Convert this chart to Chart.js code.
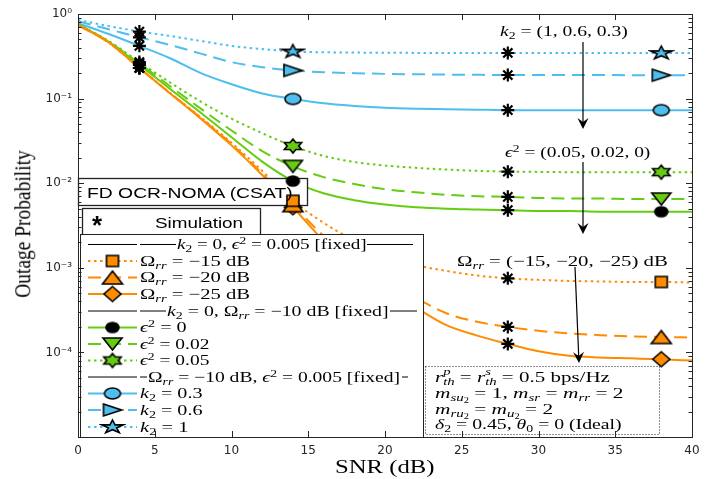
<!DOCTYPE html>
<html>
<head>
<meta charset="utf-8">
<title>Outage Probability vs SNR</title>
<script src="https://cdn.jsdelivr.net/npm/chart.js@4.4.1/dist/chart.umd.min.js"></script>
<style>
  html, body { margin: 0; padding: 0; background: #fff; }
  #wrap { position: relative; width: 715px; height: 479px; overflow: hidden; }
  #grafico { position: absolute; left: 0; top: 0; }
  .t { position: absolute; white-space: nowrap; line-height: 1; transform-origin: 0 50%;
       font-family: 'Liberation Serif', 'DejaVu Serif', serif; font-size: 15px; color: #000; }
  .t sub, .t sup { font-size: 0.7em; line-height: 0; }
  .t sub { vertical-align: -0.3em; }
  .t sup { vertical-align: 0.5em; }
  .t .ss { display: inline-block; vertical-align: -0.3em; font-size: 0.7em; line-height: 0.95; }
  .sans { font-family: 'Liberation Sans', Arial, sans-serif; }
</style>
</head>
<body>
<div id="wrap">
  <canvas id="grafico" width="715" height="479"></canvas>

  <!-- axis titles -->
  <div id="ytitle" class="t" style="font-size:18px">Outage Probability</div>
  <div class="t" data-x="335" data-w="100" data-y="466" style="font-size:19px">SNR (dB)</div>

  <!-- boxes top-left -->
  <div class="t sans" data-x="87" data-w="206" data-y="192">FD OCR-NOMA (CSAT)</div>
  <div class="t sans" data-x="92" data-y="225" style="font-size:26px;font-weight:bold">*</div>
  <div class="t sans" data-x="155" data-w="88" data-y="222">Simulation</div>

  <!-- legend -->
  <div class="t" data-x="177" data-w="189" data-y="244.5"><i>k</i><sub>2</sub> = 0, <i>ϵ</i><sup>2</sup> = 0.005 [fixed]</div>
  <div class="t" data-x="140" data-w="110" data-y="261">Ω<sub><i>rr</i></sub> = −15 dB</div>
  <div class="t" data-x="140" data-w="110" data-y="277.5">Ω<sub><i>rr</i></sub> = −20 dB</div>
  <div class="t" data-x="140" data-w="110" data-y="294">Ω<sub><i>rr</i></sub> = −25 dB</div>
  <div class="t" data-x="167" data-w="221" data-y="311"><i>k</i><sub>2</sub> = 0, Ω<sub><i>rr</i></sub> = −10 dB [fixed]</div>
  <div class="t" data-x="140" data-w="47" data-y="327.5"><i>ϵ</i><sup>2</sup> = 0</div>
  <div class="t" data-x="140" data-w="70" data-y="344"><i>ϵ</i><sup>2</sup> = 0.02</div>
  <div class="t" data-x="140" data-w="70" data-y="360.5"><i>ϵ</i><sup>2</sup> = 0.05</div>
  <div class="t" data-x="148" data-w="252" data-y="377">Ω<sub><i>rr</i></sub> = −10 dB, <i>ϵ</i><sup>2</sup> = 0.005 [fixed]</div>
  <div class="t" data-x="140" data-w="63" data-y="393.5"><i>k</i><sub>2</sub> = 0.3</div>
  <div class="t" data-x="140" data-w="63" data-y="410"><i>k</i><sub>2</sub> = 0.6</div>
  <div class="t" data-x="140" data-w="48" data-y="427"><i>k</i><sub>2</sub> = 1</div>

  <!-- annotations -->
  <div class="t" data-x="500" data-w="128" data-y="31"><i>k</i><sub>2</sub> = (1, 0.6, 0.3)</div>
  <div class="t" data-x="505" data-w="145" data-y="152"><i>ϵ</i><sup>2</sup> = (0.05, 0.02, 0)</div>
  <div class="t" data-x="457" data-w="211" data-y="261">Ω<sub><i>rr</i></sub> = (−15, −20, −25) dB</div>

  <!-- parameters -->
  <div class="t" data-x="435" data-w="175" data-y="377"><i>r</i><span class="ss"><i>p</i><br><i>th</i></span> = <i>r</i><span class="ss"><i>s</i><br><i>th</i></span> = 0.5 bps/Hz</div>
  <div class="t" data-x="435" data-w="188" data-y="393"><i>m</i><sub><i>su</i><sub>2</sub></sub> = 1, <i>m</i><sub><i>sr</i></sub> = <i>m</i><sub><i>rr</i></sub> = 2</div>
  <div class="t" data-x="435" data-w="118" data-y="409"><i>m</i><sub><i>ru</i><sub>2</sub></sub> = <i>m</i><sub><i>u</i><sub>2</sub></sub> = 2</div>
  <div class="t" data-x="435" data-w="187" data-y="424"><i>δ</i><sub>2</sub> = 0.45, <i>θ</i><sub>0</sub> = 0 (Ideal)</div>
</div>

<script>
// ===== DATA =====
const snr = [0, 2, 4, 6, 8, 10, 12, 14, 16, 18, 20, 22, 24, 26, 28, 30, 32, 34, 36, 38, 40];

// k2 = 0, eps^2 = 0.005 fixed, Omega_rr varies
const omega15 = [0.74, 0.46, 0.23, 0.117, 0.06, 0.03, 0.014, 0.0062, 0.0034, 0.0021, 0.00142, 0.00108, 0.00092, 0.00081, 0.00075, 0.00072, 0.0007, 0.00069, 0.00068, 0.00068, 0.00067];
const omega20 = [0.74, 0.46, 0.23, 0.116, 0.059, 0.029, 0.013, 0.0055, 0.0024, 0.0013, 0.00071, 0.00044, 0.00029, 0.00023, 0.0002, 0.00018, 0.000168, 0.00016, 0.000155, 0.000152, 0.00015];
const omega25 = [0.74, 0.46, 0.23, 0.115, 0.058, 0.028, 0.0125, 0.0052, 0.0021, 0.00105, 0.00056, 0.00034, 0.00021, 0.000158, 0.000126, 0.000103, 0.000091, 0.000087, 0.000085, 0.000083, 0.00008];

// k2 = 0, Omega_rr = -10 dB fixed, eps^2 varies
const eps0 = [0.76, 0.47, 0.25, 0.13, 0.068, 0.035, 0.018, 0.0106, 0.0076, 0.0063, 0.0056, 0.0052, 0.005, 0.0049, 0.0048, 0.0047, 0.0047, 0.0046, 0.0046, 0.0046, 0.0046];
const eps002 = [0.76, 0.47, 0.26, 0.14, 0.076, 0.042, 0.024, 0.0158, 0.0118, 0.0098, 0.0085, 0.0078, 0.0073, 0.007, 0.0069, 0.0067, 0.0066, 0.0066, 0.0065, 0.0065, 0.0065];
const eps005 = [0.76, 0.48, 0.27, 0.155, 0.092, 0.058, 0.039, 0.0275, 0.021, 0.0178, 0.0162, 0.0152, 0.0145, 0.014, 0.0137, 0.0136, 0.0135, 0.0135, 0.0135, 0.0135, 0.0135];

// Omega_rr = -10 dB, eps^2 = 0.005 fixed, k2 varies
const k03 = [0.78, 0.58, 0.42, 0.3, 0.2, 0.148, 0.115, 0.099, 0.088, 0.082, 0.078, 0.076, 0.075, 0.074, 0.073, 0.073, 0.073, 0.073, 0.073, 0.073, 0.073];
const k06 = [0.82, 0.66, 0.53, 0.43, 0.34, 0.27, 0.235, 0.215, 0.205, 0.2, 0.196, 0.194, 0.192, 0.191, 0.19, 0.19, 0.19, 0.19, 0.189, 0.189, 0.189];
const k1 = [0.85, 0.72, 0.62, 0.55, 0.48, 0.42, 0.385, 0.36, 0.353, 0.35, 0.348, 0.347, 0.346, 0.346, 0.346, 0.345, 0.345, 0.345, 0.345, 0.345, 0.345];

const markerSnr = [14, 38];   // analysis markers
const simSnr = [4, 28];       // simulation points (asterisks)
const yTicks = [1e-4, 1e-3, 1e-2, 1e-1, 1];

// ===== STYLE =====
const ORANGE = '#FF8C00';
const GREEN = '#66CC11';
const BLUE = '#4DBEEE';
const SOLID = [];
const DASH = [13, 7];
const DOT = [2.5, 3.5];

function starPts(n, inner) {
  const p = [];
  for (let i = 0; i < 2 * n; i++) {
    const a = -Math.PI / 2 + i * Math.PI / n;
    const r = i % 2 ? inner : 1;
    p.push([r * Math.cos(a), r * Math.sin(a)]);
  }
  return p;
}

const SHAPES = {
  square: [[-1, -1], [1, -1], [1, 1], [-1, 1]],
  triUp: [[0, -1], [1, 1], [-1, 1]],
  triDown: [[-1, -1], [1, -1], [0, 1]],
  triRight: [[-1, -1], [1, 0], [-1, 1]],
  diamond: [[0, -1], [1, 0], [0, 1], [-1, 0]],
  penta: starPts(5, 0.38),
  hexa: starPts(6, 0.577)
};

// marker as small canvas (picture is stretched horizontally, so w != h)
function markerImg(shape, w, h, fill) {
  const pad = 2;
  const cv = document.createElement('canvas');
  cv.width = w + pad * 2;
  cv.height = h + pad * 2;
  const g = cv.getContext('2d');
  g.translate(cv.width / 2, cv.height / 2);
  g.beginPath();
  if (shape === 'circle') {
    g.ellipse(0, 0, w / 2, h / 2, 0, 0, Math.PI * 2);
  } else {
    SHAPES[shape].forEach(([px, py], i) => {
      const X = px * w / 2, Y = py * h / 2;
      i ? g.lineTo(X, Y) : g.moveTo(X, Y);
    });
  }
  g.closePath();
  g.fillStyle = fill;
  g.fill();
  g.lineWidth = 1.6;
  g.strokeStyle = '#000';
  g.stroke();
  return cv;
}

const mk = {
  square: markerImg('square', 12, 11, ORANGE),
  triUp: markerImg('triUp', 20, 13, ORANGE),
  diamond: markerImg('diamond', 17, 15, ORANGE),
  dot: markerImg('circle', 13, 10, '#000'),
  triDown: markerImg('triDown', 19, 12, GREEN),
  hexa: markerImg('hexa', 20, 14, GREEN),
  circle: markerImg('circle', 16, 11, BLUE),
  triRight: markerImg('triRight', 18, 12, BLUE),
  penta: markerImg('penta', 23, 14, BLUE)
};

const series = [
  { data: omega15, color: ORANGE, dash: DOT, marker: mk.square },
  { data: omega20, color: ORANGE, dash: DASH, marker: mk.triUp },
  { data: omega25, color: ORANGE, dash: SOLID, marker: mk.diamond },
  { data: eps0, color: GREEN, dash: SOLID, marker: mk.dot },
  { data: eps002, color: GREEN, dash: DASH, marker: mk.triDown },
  { data: eps005, color: GREEN, dash: DOT, marker: mk.hexa },
  { data: k03, color: BLUE, dash: SOLID, marker: mk.circle },
  { data: k06, color: BLUE, dash: DASH, marker: mk.triRight },
  { data: k1, color: BLUE, dash: DOT, marker: mk.penta }
];

const pick = (arr, xs) => xs.map(x => ({ x, y: arr[snr.indexOf(x)] }));

// ===== DATASETS =====
const datasets = [];
series.forEach(s => {
  datasets.push({
    data: snr.map((x, i) => ({ x, y: s.data[i] })),
    borderColor: s.color,
    borderWidth: 2,
    borderDash: s.dash,
    pointRadius: 0,
    cubicInterpolationMode: 'monotone',
    order: 2
  });
});
series.forEach(s => {
  datasets.push({
    data: pick(s.data, markerSnr),
    showLine: false,
    pointStyle: s.marker,
    pointRadius: 5,
    order: 1,
    marks: true
  });
});
datasets.push({
  data: series.flatMap(s => pick(s.data, simSnr)),
  showLine: false,
  pointStyle: 'star',
  pointRadius: 6.5,
  borderColor: '#000',
  borderWidth: 2.2,
  order: 0,
  marks: true
});

// ===== LEGEND / BOXES =====
const legendRows = [
  { y: 244.5, head: [[140, 176], [367, 413]] },
  { y: 261, color: ORANGE, dash: DOT, marker: mk.square },
  { y: 277.5, color: ORANGE, dash: DASH, marker: mk.triUp },
  { y: 294, color: ORANGE, dash: SOLID, marker: mk.diamond },
  { y: 311, head: [[140, 166], [390, 417]] },
  { y: 327.5, color: GREEN, dash: SOLID, marker: mk.dot },
  { y: 344, color: GREEN, dash: DASH, marker: mk.triDown },
  { y: 360.5, color: GREEN, dash: DOT, marker: mk.hexa },
  { y: 377, head: [[140, 147], [402, 408]] },
  { y: 393.5, color: BLUE, dash: SOLID, marker: mk.circle },
  { y: 410, color: BLUE, dash: DASH, marker: mk.triRight },
  { y: 427, color: BLUE, dash: DOT, marker: mk.penta }
];

function hline(ctx, x0, x1, y) {
  ctx.beginPath();
  ctx.moveTo(x0, y);
  ctx.lineTo(x1, y);
  ctx.stroke();
}

function box(ctx, x0, y0, x1, y1, lw, dash) {
  ctx.save();
  ctx.fillStyle = '#fff';
  ctx.fillRect(x0, y0, x1 - x0, y1 - y0);
  ctx.lineWidth = lw;
  ctx.strokeStyle = '#222';
  ctx.setLineDash(dash || []);
  ctx.strokeRect(x0 + 0.5, y0 + 0.5, x1 - x0, y1 - y0);
  ctx.restore();
}

function drawBoxes(ctx) {
  box(ctx, 78, 178, 307, 205, 1.3);
  box(ctx, 82, 208, 260, 235, 1.3);
  box(ctx, 80, 234, 423, 437, 1);
  box(ctx, 425, 366, 659, 434, 1, [1, 2]);

  ctx.save();
  legendRows.forEach(r => {
    if (r.head) {
      ctx.strokeStyle = '#000';
      ctx.lineWidth = 1;
      ctx.setLineDash([]);
      hline(ctx, 88, 137, r.y);
      r.head.forEach(([a, b]) => hline(ctx, a, b, r.y));
      return;
    }
    ctx.strokeStyle = r.color;
    ctx.lineWidth = 2;
    ctx.setLineDash(r.dash);
    hline(ctx, 88, 137, r.y);
    ctx.drawImage(r.marker, 112.5 - r.marker.width / 2, r.y - r.marker.height / 2);
  });
  ctx.restore();
}

function arrow(ctx, x0, y0, x1, y1) {
  const a = Math.atan2(y1 - y0, x1 - x0);
  const L = 11, W = 5.5, N = 7;
  ctx.beginPath();
  ctx.moveTo(x0, y0);
  ctx.lineTo(x1 - Math.cos(a) * N, y1 - Math.sin(a) * N);
  ctx.stroke();
  const bx = x1 - Math.cos(a) * L, by = y1 - Math.sin(a) * L;
  const nx = -Math.sin(a) * W, ny = Math.cos(a) * W;
  ctx.beginPath();
  ctx.moveTo(x1, y1);
  ctx.lineTo(bx + nx, by + ny);
  ctx.lineTo(x1 - Math.cos(a) * N, y1 - Math.sin(a) * N);
  ctx.lineTo(bx - nx, by - ny);
  ctx.closePath();
  ctx.fill();
}

function drawAxes(chart) {
  const ctx = chart.ctx;
  const { left, right, top, bottom } = chart.chartArea;
  const xs = chart.scales.x, ys = chart.scales.y;
  ctx.save();
  ctx.strokeStyle = '#262626';
  ctx.lineWidth = 1;
  ctx.strokeRect(left + 0.5, top + 0.5, right - left, bottom - top);
  ctx.beginPath();
  for (let v = 5; v < 40; v += 5) {
    const px = Math.round(xs.getPixelForValue(v)) + 0.5;
    ctx.moveTo(px, bottom); ctx.lineTo(px, bottom - 6);
    ctx.moveTo(px, top); ctx.lineTo(px, top + 6);
  }
  for (let e = -5; e <= 0; e++) {
    for (let m = 1; m <= 9; m++) {
      const v = m * Math.pow(10, e);
      if (v > 1 || v < 1e-5) continue;
      const py = Math.round(ys.getPixelForValue(v)) + 0.5;
      const len = m === 1 ? 6 : 3.5;
      ctx.moveTo(left, py); ctx.lineTo(left + len, py);
      ctx.moveTo(right, py); ctx.lineTo(right - len, py);
    }
  }
  ctx.stroke();

  ctx.strokeStyle = '#000';
  ctx.fillStyle = '#000';
  ctx.lineWidth = 1.2;
  arrow(ctx, 583, 42, 583, 129);
  arrow(ctx, 583, 162, 583, 234);
  arrow(ctx, 575, 267, 579, 363);
  ctx.restore();
}

const decor = {
  id: 'decor',
  beforeDraw(chart) { chart.$boxesDone = false; },
  beforeDatasetDraw(chart, args) {
    if (!chart.$boxesDone && chart.data.datasets[args.index].marks) {
      drawBoxes(chart.ctx);
      chart.$boxesDone = true;
    }
  },
  afterDatasetsDraw(chart) { drawAxes(chart); }
};

// ===== CHART =====
const SUP = { '-': '⁻', '0': '⁰', '1': '¹', '2': '²', '3': '³', '4': '⁴', '5': '⁵' };
function decadeLabel(v) {
  const e = Math.round(Math.log10(v));
  const hit = yTicks.some(t => Math.abs(t - v) / t < 1e-6);
  if (!hit) return '';
  return '10' + String(e).split('').map(c => SUP[c]).join('');
}

const tickFont = { family: 'DejaVu Sans', size: 12 };

new Chart(document.getElementById('grafico'), {
  type: 'line',
  data: { datasets },
  options: {
    responsive: false,
    animation: false,
    layout: { padding: { top: 14, right: 23, left: 0, bottom: 0 } },
    plugins: { legend: { display: false }, tooltip: { enabled: false } },
    scales: {
      x: {
        type: 'linear', min: 0, max: 40,
        afterFit: s => { s.height = 42; },
        grid: { display: false, drawTicks: false },
        border: { display: false },
        ticks: { stepSize: 5, padding: 7, color: '#262626', font: tickFont }
      },
      y: {
        type: 'logarithmic', min: 1e-5, max: 1,
        afterFit: s => { s.width = 78; },
        grid: { display: false, drawTicks: false },
        border: { display: false },
        ticks: { autoSkip: false, padding: 6, color: '#262626', font: tickFont, callback: decadeLabel }
      }
    }
  },
  plugins: [decor]
});

// ===== TEXT FITTING =====
document.querySelectorAll('.t[data-x]').forEach(el => {
  const w = el.offsetWidth, h = el.offsetHeight;
  el.style.left = el.dataset.x + 'px';
  el.style.top = (+el.dataset.y - h / 2) + 'px';
  if (el.dataset.w) el.style.transform = `scaleX(${+el.dataset.w / w})`;
});
const yt = document.getElementById('ytitle');
const yw = yt.offsetWidth, yh = yt.offsetHeight;
yt.style.left = (22 - yw / 2) + 'px';
yt.style.top = (224 - yh / 2) + 'px';
yt.style.transformOrigin = '50% 50%';
yt.style.transform = `rotate(-90deg) scale(${147 / yw}, 1.3)`;
</script>
</body>
</html>
